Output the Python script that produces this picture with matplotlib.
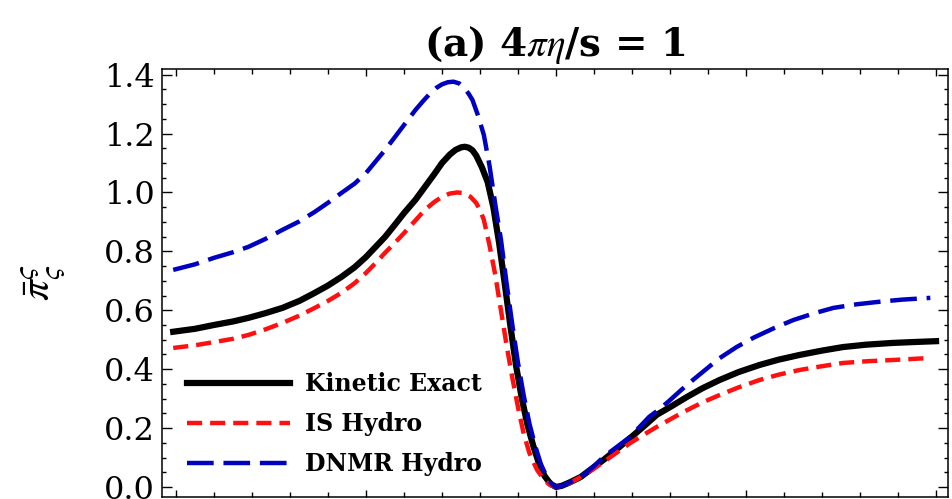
import matplotlib
matplotlib.use("Agg")
import matplotlib.pyplot as plt
from matplotlib.ticker import MultipleLocator, NullFormatter

plt.rcParams['font.family'] = ['DejaVu Serif']
plt.rcParams['mathtext.fontset'] = 'stix'

# curves (x in units of the major x ticks)
x_kin = [-0.015, 0.1, 0.2, 0.3, 0.38, 0.47, 0.56, 0.65, 0.73, 0.8, 0.87, 0.94, 1.0, 1.05,
         1.1, 1.15, 1.2, 1.26, 1.31, 1.36, 1.4, 1.44, 1.47, 1.5, 1.52, 1.54, 1.56, 1.58,
         1.61, 1.64, 1.67, 1.7, 1.73, 1.76, 1.79, 1.82, 1.85, 1.88, 1.91, 1.94, 1.97, 2.0,
         2.03, 2.07, 2.13, 2.2, 2.25, 2.3, 2.39, 2.46, 2.53, 2.61, 2.69, 2.77, 2.86, 2.96,
         3.07, 3.17, 3.28, 3.4, 3.51, 3.63, 3.77, 3.88, 4.0]
y_kin = [0.527, 0.537, 0.55, 0.562, 0.574, 0.59, 0.608, 0.632, 0.659, 0.684, 0.713, 0.746,
         0.781, 0.815, 0.849, 0.889, 0.93, 0.975, 1.019, 1.063, 1.1, 1.128, 1.144, 1.153,
         1.155, 1.152, 1.143, 1.125, 1.085, 1.035, 0.95, 0.83, 0.69, 0.545, 0.41, 0.3,
         0.21, 0.14, 0.08, 0.037, 0.011, 0.0, 0.004, 0.015, 0.034, 0.068, 0.092, 0.118,
         0.166, 0.205, 0.245, 0.275, 0.306, 0.335, 0.363, 0.39, 0.414, 0.432, 0.448, 0.463,
         0.475, 0.483, 0.489, 0.492, 0.495]

x_is = [-0.015, 0.1, 0.2, 0.3, 0.38, 0.47, 0.56, 0.65, 0.73, 0.8, 0.87, 0.94, 1.0, 1.05,
        1.1, 1.15, 1.2, 1.26, 1.31, 1.36, 1.4, 1.44, 1.48, 1.51, 1.55, 1.58, 1.6, 1.62,
        1.65, 1.68, 1.71, 1.74, 1.77, 1.8, 1.83, 1.86, 1.9, 1.94, 1.97, 2.0, 2.04, 2.08,
        2.13, 2.19, 2.25, 2.32, 2.39, 2.46, 2.53, 2.61, 2.69, 2.77, 2.86, 2.96, 3.07,
        3.17, 3.28, 3.4, 3.51, 3.64, 3.77, 3.97]
y_is = [0.472, 0.481, 0.492, 0.503, 0.516, 0.535, 0.557, 0.582, 0.608, 0.632, 0.659,
        0.692, 0.727, 0.76, 0.795, 0.828, 0.862, 0.905, 0.941, 0.968, 0.985, 0.996, 1.0,
        0.998, 0.985, 0.964, 0.94, 0.907, 0.82, 0.72, 0.6, 0.48, 0.37, 0.27, 0.18, 0.115,
        0.058, 0.022, 0.006, 0.0, 0.004, 0.016, 0.034, 0.058, 0.085, 0.117, 0.149, 0.177,
        0.204, 0.233, 0.261, 0.287, 0.312, 0.338, 0.363, 0.381, 0.397, 0.41, 0.421, 0.427,
        0.431, 0.438]

x_dnmr = [-0.015, 0.1, 0.2, 0.3, 0.38, 0.47, 0.56, 0.65, 0.73, 0.8, 0.87, 0.94, 1.0, 1.05,
          1.1, 1.14, 1.18, 1.22, 1.26, 1.3, 1.34, 1.37, 1.4, 1.43, 1.46, 1.49, 1.51, 1.54,
          1.56, 1.59, 1.62, 1.65, 1.68, 1.71, 1.74, 1.77, 1.8, 1.83, 1.86, 1.89, 1.92,
          1.95, 1.98, 2.0, 2.03, 2.07, 2.13, 2.19, 2.25, 2.32, 2.39, 2.44, 2.49, 2.55, 2.6,
          2.66, 2.72, 2.79, 2.86, 2.95, 3.04, 3.15, 3.25, 3.36, 3.46, 3.58, 3.69, 3.82, 3.97]
y_dnmr = [0.737, 0.756, 0.778, 0.797, 0.815, 0.842, 0.873, 0.902, 0.934, 0.965, 0.998,
          1.03, 1.066, 1.105, 1.144, 1.178, 1.212, 1.246, 1.28, 1.31, 1.338, 1.355, 1.367,
          1.374, 1.376, 1.37, 1.36, 1.335, 1.314, 1.26, 1.195, 1.09, 0.96, 0.84, 0.69,
          0.55, 0.42, 0.31, 0.215, 0.14, 0.078, 0.035, 0.008, 0.0, 0.003, 0.015, 0.034,
          0.065, 0.102, 0.136, 0.17, 0.204, 0.238, 0.267, 0.295, 0.33, 0.363, 0.4, 0.437,
          0.475, 0.507, 0.54, 0.567, 0.59, 0.608, 0.62, 0.628, 0.636, 0.642]

labels = ['Kinetic Exact', 'IS Hydro', 'DNMR Hydro']

fig = plt.figure(figsize=(9.53, 4.99), dpi=100)
ax = fig.add_axes([162 / 953, 2 / 499, 786 / 953, 428 / 499])

ax.plot(x_kin, y_kin, color='black', lw=4.5, label=labels[0], solid_joinstyle='round')
ax.plot(x_is, y_is, color='#ff1010', lw=3.2, dashes=(3.4, 1.8), label=labels[1])
ax.plot(x_dnmr, y_dnmr, color='#0000c0', lw=3.2, dashes=(6.0, 2.2), label=labels[2])

ax.set_xlim(-0.074, 4.063)
ax.set_ylim(-0.034, 1.419)

ax.xaxis.set_major_locator(MultipleLocator(1))
ax.xaxis.set_minor_locator(MultipleLocator(0.2))
ax.xaxis.set_major_formatter(NullFormatter())
ax.yaxis.set_major_locator(MultipleLocator(0.2))
ax.yaxis.set_minor_locator(MultipleLocator(0.05))
ax.yaxis.set_major_formatter(plt.FuncFormatter(lambda v, p: f'{v:.1f}'))

ax.tick_params(which='both', direction='in', top=True, right=True, width=1.0)
ax.tick_params(axis='x', which='major', length=5)
ax.tick_params(axis='x', which='minor', length=3.5)
ax.tick_params(axis='y', which='major', length=7, labelsize=23, pad=5)
ax.tick_params(axis='y', which='minor', length=3)
for sp in ax.spines.values():
    sp.set_linewidth(1.1)

ax.set_ylabel(r'$\bar{\pi}^{\varsigma}_{\varsigma}$', fontsize=30)
ax.yaxis.set_label_coords(-0.12, 0.5)

ax.set_title(r'(a) 4$\pi\eta$/s = 1', fontsize=28, fontweight='bold',
             math_fontfamily='stix', pad=9)

ax.legend(loc='lower left', bbox_to_anchor=(0.032, 0.049), frameon=False,
          prop={'family': 'DejaVu Serif', 'weight': 'bold', 'size': 17},
          handlelength=4.36, handletextpad=0.64, labelspacing=0.67,
          borderpad=0, borderaxespad=0)

fig.savefig('out.png', dpi=100)
